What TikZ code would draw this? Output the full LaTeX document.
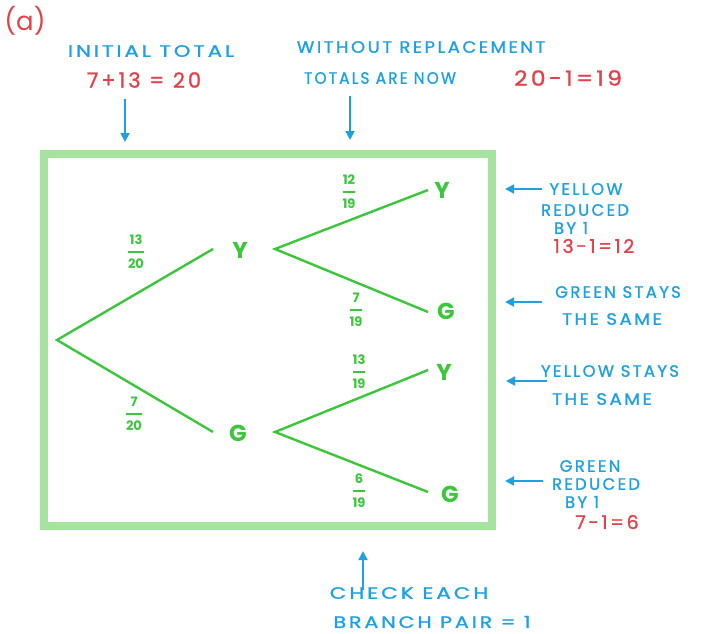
\documentclass[tikz,border=0pt]{standalone}
\usepackage{amsmath}
\usepackage{fontspec}
\setmainfont{Poppins}
\newfontfamily\hand[LetterSpace=14,FakeBold=1.2]{Poppins}
\usetikzlibrary{arrows.meta}
\definecolor{boxgreen}{HTML}{A6E3A1}
\definecolor{treegreen}{HTML}{3BC63B}
\definecolor{noteblue}{HTML}{1DA1E2}
\definecolor{notered}{HTML}{E2434B}
\tikzset{
  note/.style={text=noteblue, font=\hand\fontsize{16.5}{18}\selectfont, inner sep=0pt},
  calc/.style={text=notered, font=\hand\fontsize{21}{23}\selectfont, inner sep=0pt},
  smallcalc/.style={text=notered, font=\hand\fontsize{19}{21}\selectfont, inner sep=0pt},
  pointer/.style={draw=noteblue, line width=1.8pt, -{Triangle[length=9pt,width=9pt]}},
  branch/.style={draw=treegreen, line width=2.4pt},
  outcome/.style={text=treegreen, font=\fontsize{23}{25}\selectfont\bfseries, inner sep=0pt},
  prob/.style={text=treegreen, font=\fontsize{13}{14}\selectfont\bfseries, inner sep=0pt},
}
\newcommand{\pfrac}[2]{$\genfrac{}{}{2pt}{0}{\text{#1}}{\text{#2}}$}
\begin{document}
\begin{tikzpicture}[x=1pt,y=-1pt]
\useasboundingbox (0,0) rectangle (701,634);
% frame
\draw[boxgreen, line width=8pt] (44,154) rectangle (492,526);
\node[text=notered, font=\fontsize{26}{28}\selectfont, inner sep=0pt] (lbl) at (25,21) {(a)};
% top notes
\node[note, xscale=1.28] (init) at (151,51) {INITIAL TOTAL};
\node[calc] (initcalc) at (144,80) {7+13 = 20};
\coordinate (initA) at (125,99);
\coordinate (initB) at (125,142);
\draw[pointer] (initA) -- (initB);
\node[note, xscale=1.09] (wo) at (421,47) {WITHOUT REPLACEMENT};
\node[note, xscale=0.93] (tot) at (380,78) {TOTALS ARE NOW};
\node[calc, xscale=1.12] (totcalc) at (568,78) {20-1=19};
\coordinate (woA) at (350,96);
\coordinate (woB) at (350,140);
\draw[pointer] (woA) -- (woB);
% tree
\coordinate (root) at (57,340);
\coordinate (y1in) at (213,249);
\coordinate (g1in) at (213,432);
\coordinate (y1out) at (275,249);
\coordinate (g1out) at (275,432);
\coordinate (yyend) at (428,190);
\coordinate (ygend) at (428,312);
\coordinate (gyend) at (428,370);
\coordinate (ggend) at (428,492);
\draw[branch] (y1in) -- (root) -- (g1in);
\draw[branch] (yyend) -- (y1out) -- (ygend);
\draw[branch] (gyend) -- (g1out) -- (ggend);
\node[outcome] (Y1) at (240,250) {Y};
\node[outcome] (G1) at (238,433) {G};
\node[outcome] (YY) at (442,190) {Y};
\node[outcome] (YG) at (446,311) {G};
\node[outcome] (GY) at (444,372) {Y};
\node[outcome] (GG) at (450,494) {G};
\node[prob] (p1) at (136,252) {\pfrac{13}{20}};
\node[prob] (p2) at (134,414) {\pfrac{7}{20}};
\node[prob] (p3) at (349,192) {\pfrac{12}{19}};
\node[prob] (p4) at (356,310) {\pfrac{7}{19}};
\node[prob] (p5) at (359,372) {\pfrac{13}{19}};
\node[prob] (p6) at (359,491) {\pfrac{6}{19}};
% right notes
\coordinate (a1) at (542,189); \coordinate (b1) at (505,189);
\draw[pointer] (a1) -- (b1);
\node[note] (n1a) at (586,189) {YELLOW};
\node[note] (n1b) at (585,210) {REDUCED};
\node[note] (n1c) at (571,228) {BY 1};
\node[smallcalc] (n1d) at (594,246) {13-1=12};
\coordinate (a2) at (542,302); \coordinate (b2) at (505,302);
\draw[pointer] (a2) -- (b2);
\node[note] (n2a) at (618,292) {GREEN STAYS};
\node[note, xscale=1.1] (n2b) at (612,319) {THE SAME};
\coordinate (a3) at (547,381); \coordinate (b3) at (506,381);
\draw[pointer] (a3) -- (b3);
\node[note] (n3a) at (610,371) {YELLOW STAYS};
\node[note, xscale=1.1] (n3b) at (602,399) {THE SAME};
\coordinate (a4) at (543,481); \coordinate (b4) at (505,481);
\draw[pointer] (a4) -- (b4);
\node[note] (n4a) at (590,466) {GREEN};
\node[note] (n4b) at (596,484) {REDUCED};
\node[note] (n4c) at (582,502) {BY 1};
\node[smallcalc] (n4d) at (607,522) {7-1=6};
% bottom note
\coordinate (cA) at (363,590);
\coordinate (cB) at (363,551);
\draw[pointer] (cA) -- (cB);
\node[note, xscale=1.3] (c1) at (409,593) {CHECK EACH};
\node[note, xscale=1.25] (c2) at (432,622) {BRANCH PAIR = 1};
\end{tikzpicture}
\end{document}
